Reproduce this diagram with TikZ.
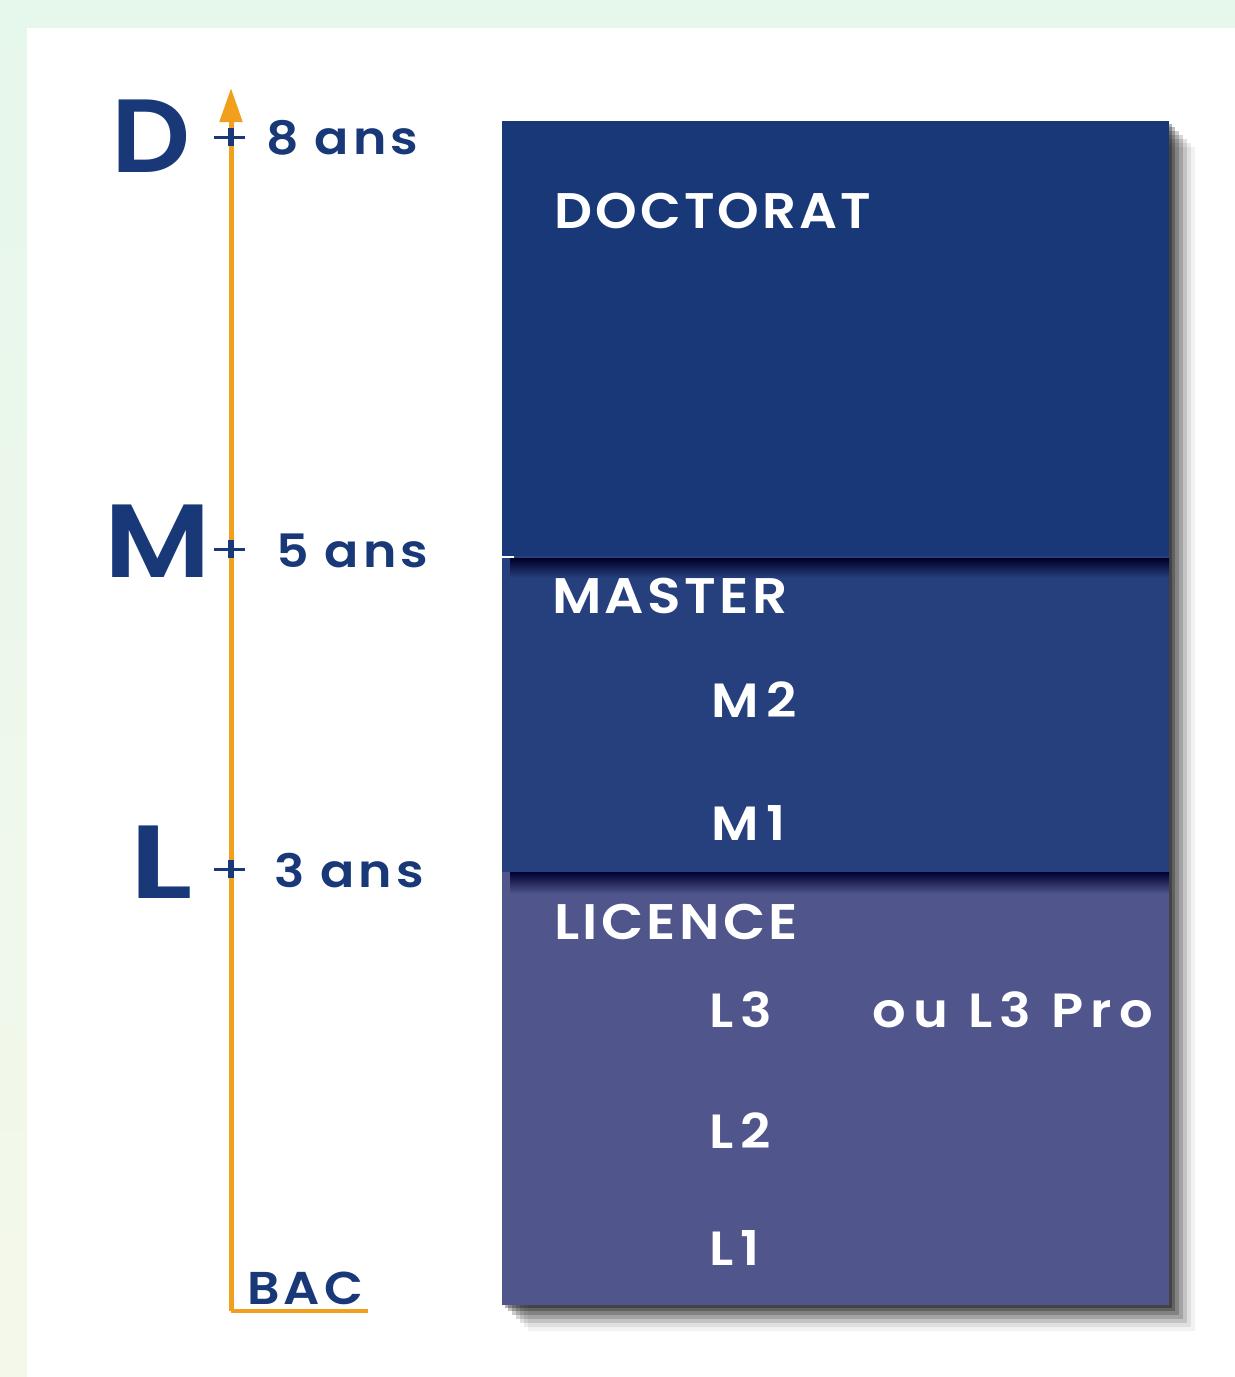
\documentclass[tikz,border=0pt]{standalone}
\usepackage{fontspec}
\setmainfont{Poppins}[BoldFont=* SemiBold]
\usetikzlibrary{arrows.meta}
\definecolor{bgG}{HTML}{E6F7EC}
\definecolor{bgY}{HTML}{F4F8EA}
\definecolor{navy}{HTML}{183878}
\definecolor{docC}{HTML}{183878}
\definecolor{masC}{HTML}{26407E}
\definecolor{licC}{HTML}{50568C}
\definecolor{orng}{HTML}{F0A01C}
\newcommand{\fsz}[2]{\fontsize{#1}{#1}\selectfont\bfseries\addfontfeatures{LetterSpace=#2}}
\newcommand{\wid}[2]{\scalebox{#1}[1]{#2}}
\newcommand{\tx}[1]{\scalebox{1.1}[1]{#1}}
\tikzset{
  big/.style={text=navy, font=\fsz{104}{0}, inner sep=0pt, anchor=base west},
  yrs/.style={text=navy, font=\fsz{46}{8}, inner sep=0pt, anchor=base west},
  title/.style={text=white, font=\fsz{50}{6}, inner sep=0pt, anchor=base west},
  lvl/.style={text=white, font=\fsz{48}{14}, inner sep=0pt, anchor=base west},
  tickm/.style={navy, line width=3pt},
}
\begin{document}
\begin{tikzpicture}[x=1pt,y=-1pt]
\useasboundingbox (0,0) rectangle (1235,1377);
\shade[top color=bgG, bottom color=bgY] (0,0) rectangle (1235,1377);
\fill[white] (27,28) rectangle (1235,1377);
% shadows
\foreach \o/\a in {26/0.05,22/0.08,18/0.12,14/0.16,10/0.2,6/0.25,3/0.3}{
  \fill[black, opacity=\a] (502+\o,121+\o) rectangle (1169+\o,1305+\o);
}
% boxes
\fill[licC] (502,870) rectangle (1169,1305);
\fill[masC] (502,556) rectangle (1169,870);
% inner shadows from upper boxes
\shade[top color=black!85!blue, bottom color=masC] (510,558) rectangle (1169,578);
\shade[top color=black!80!blue, bottom color=licC] (510,872) rectangle (1169,894);
\fill[docC] (502,121) rectangle (1169,556);
\fill[masC] (502,556) rectangle (1169,558);
\draw[white, line width=1.5pt] (502,557) -- (514,557);
\fill[masC] (502,862) rectangle (1169,872);
% axis
\coordinate (bac0) at (231,1311);
\coordinate (top) at (231,88);
\coordinate (bacE) at (368,1311);
\draw[orng, line width=5pt, -{Triangle[length=34pt,width=22pt]}] (bac0) -- (top);
\draw[orng, line width=4pt] (bac0) -- (bacE);
% ticks
\foreach \n/\y in {t8/137, t5/549, t3/869}{
  \coordinate (\n) at (231,\y);
  \draw[tickm] ([xshift=-17pt]\n) -- ([xshift=14pt]\n);
  \draw[navy, line width=6pt] ([yshift=-9pt]\n) -- ([yshift=9pt]\n);
}
% left texts
\node[big] (D) at (111,172) {\wid{1.06}{D}};
\node[big] (M) at (104,577) {\wid{1.14}{M}};
\node[big] (L) at (129,898) {\wid{1.33}{L}};
\node[yrs] (a8) at (266,154) {\tx{8 ans}};
\node[yrs] (a5) at (276,567) {\tx{5 ans}};
\node[yrs] (a3) at (274,887) {\tx{3 ans}};
\node[yrs] (bac) at (247,1304) {\tx{BAC}};
% box texts
\node[title] (doc) at (554,228) {\wid{1.06}{DOCTORAT}};
\node[title] (mas) at (552,613) {\tx{MASTER}};
\node[lvl] (m2) at (711,717) {\tx{M2}};
\node[lvl] (m1) at (711,840) {\tx{M1}};
\node[title] (lic) at (554,939) {\tx{LICENCE}};
\node[lvl] (l3) at (709,1027) {\tx{L3}};
\node[lvl] (l3p) at (872,1027) {\tx{ou L3 Pro}};
\node[lvl] (l2) at (709,1148) {\tx{L2}};
\node[lvl] (l1) at (709,1265) {\tx{L1}};
\end{tikzpicture}
\end{document}
